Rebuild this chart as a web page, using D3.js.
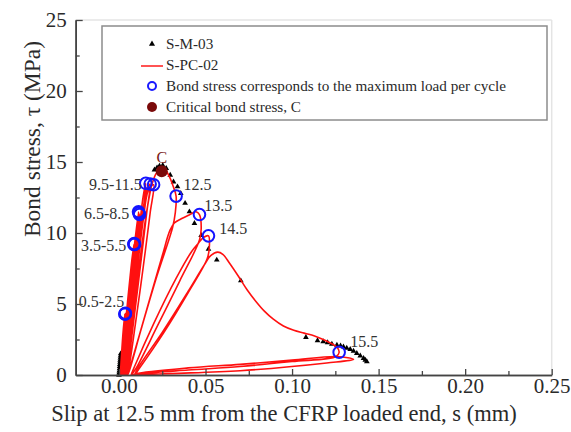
<!DOCTYPE html>
<html>
<head>
<meta charset="utf-8">
<script src="https://cdn.jsdelivr.net/npm/d3@7"></script>
<style>
  html, body { margin: 0; padding: 0; background: #fff; }
  svg { display: block; }
  text { font-family: "Liberation Serif", serif; }
</style>
</head>
<body>
<svg id="chart" width="571" height="432"></svg>
<script>
// ---------- DATA ----------
const xTicks = [0, 0.05, 0.10, 0.15, 0.20, 0.25];
const xMinorTicks = [0.025, 0.075, 0.125, 0.175, 0.225];
const yTicks = [0, 5, 10, 15, 20, 25];
const yMinorTicks = [2.5, 7.5, 12.5, 17.5, 22.5];

// S-M-03 (monotonic test) – triangles (visible points)
const monoSlip = [0, 0.0001, 0.0002, 0.0003, 0.0004, 0.0005, 0.0006, 0.0007, 0.0008, 0.0009, 0.001,
  0.0205, 0.022, 0.0234, 0.0253, 0.0273, 0.0296, 0.0315, 0.0338, 0.0357, 0.0382, 0.0407, 0.0436, 0.0475, 0.0517, 0.0565, 0.0704,
  0.108, 0.1147, 0.118, 0.1205, 0.123, 0.1259, 0.128, 0.1297, 0.1316, 0.1336, 0.1355, 0.1374, 0.1394, 0.1413, 0.1423, 0.1432];
const monoStress = [0, 0.15, 0.3, 0.45, 0.6, 0.75, 0.9, 1.05, 1.2, 1.35, 1.5,
  14.45, 14.6, 14.72, 14.77, 14.55, 14.08, 13.6, 13.26, 12.8, 12.1, 11.5, 10.68, 9.84, 8.87, 8.1, 6.64,
  2.65, 2.42, 2.35, 2.28, 2.18, 2.11, 2.05, 1.99, 1.9, 1.81, 1.68, 1.53, 1.35, 1.17, 1.05, 0.94];

// S-PC-02 (cyclic test) – red line
const cyclicSlip = [0.0008,
  0.0015, 0.0025, 0.0034, 0.0030, 0.0020, 0.0012,
  0.0018, 0.0027, 0.0036, 0.0031, 0.0022, 0.0014,
  0.0020, 0.0029, 0.0037, 0.0033, 0.0024, 0.0016,
  0.0030, 0.0050, 0.0070, 0.0086, 0.0078, 0.0055, 0.0032, 0.0020,
  0.0033, 0.0053, 0.0072, 0.0088, 0.0080, 0.0057, 0.0034, 0.0022,
  0.0035, 0.0055, 0.0074, 0.0090, 0.0082, 0.0059, 0.0036, 0.0024,
  0.0040, 0.0065, 0.0090, 0.0113, 0.0100, 0.0072, 0.0042, 0.0027,
  0.0043, 0.0068, 0.0093, 0.0116, 0.0103, 0.0075, 0.0045, 0.0030,
  0.0046, 0.0071, 0.0096, 0.0119, 0.0106, 0.0078, 0.0048, 0.0033,
  0.0050, 0.0085, 0.0120, 0.0140, 0.0155, 0.0140, 0.0110, 0.0075, 0.0045, 0.0036,
  0.0055, 0.0092, 0.0130, 0.0158, 0.0180, 0.0160, 0.0125, 0.0085, 0.0050, 0.0040,
  0.0060, 0.0100, 0.0140, 0.0170, 0.0200, 0.0180, 0.0140, 0.0095, 0.0055, 0.0044,
  0.0065, 0.0110, 0.0160, 0.0190, 0.0215, 0.0240, 0.0265, 0.0290, 0.0310, 0.0330, 0.0325, 0.0310, 0.0220, 0.0130, 0.0060, 0.0050,
  0.0070, 0.0160, 0.0250, 0.0295, 0.0320, 0.0360, 0.0410, 0.0445, 0.0465, 0.0475, 0.0465, 0.0350, 0.0220, 0.0100, 0.0070,
  0.0090, 0.0200, 0.0330, 0.0420, 0.0460, 0.0490, 0.0517, 0.0522, 0.0510, 0.0400, 0.0260, 0.0120, 0.0090,
  0.0110, 0.0250, 0.0400, 0.0490, 0.0530, 0.0570, 0.0600, 0.0640, 0.0690, 0.0740, 0.0790, 0.0840, 0.0890, 0.0950, 0.1010, 0.1070, 0.1130, 0.1180, 0.1230, 0.1260, 0.1272, 0.1255, 0.1000, 0.0700, 0.0400, 0.0150, 0.0080,
  0.0100, 0.0400, 0.0700, 0.1000, 0.1260, 0.1355, 0.1200, 0.0700, 0.0300, 0.0100];
const cyclicStress = [0,
  1.5, 3.2, 4.3, 3.0, 1.2, 0,
  1.4, 3.1, 4.3, 2.8, 1.1, 0,
  1.3, 3.0, 4.35, 2.9, 1.1, 0,
  2.5, 5.2, 7.6, 9.2, 7.4, 4.5, 1.6, 0,
  2.4, 5.1, 7.5, 9.25, 7.3, 4.4, 1.5, 0,
  2.3, 5.0, 7.4, 9.2, 7.2, 4.3, 1.4, 0,
  2.8, 6.2, 9.2, 11.5, 9.0, 5.5, 1.8, 0,
  2.7, 6.1, 9.1, 11.4, 8.9, 5.4, 1.7, 0,
  2.6, 6.0, 9.0, 11.3, 8.8, 5.3, 1.6, 0,
  2.6, 6.8, 10.6, 12.6, 13.5, 11.5, 8.0, 4.0, 0.6, 0,
  2.5, 6.8, 10.8, 12.9, 13.45, 11.4, 7.8, 3.8, 0.5, 0,
  2.4, 6.8, 10.9, 13.0, 13.4, 11.4, 7.6, 3.6, 0.4, 0,
  2.4, 7.0, 11.5, 13.4, 14.2, 14.55, 14.5, 14.0, 13.4, 12.6, 11.4, 10.4, 7.0, 3.3, 0.3, 0,
  0.8, 4.6, 8.4, 10.2, 10.7, 11.0, 11.3, 11.5, 11.3, 10.3, 9.5, 6.6, 3.4, 0.5, 0,
  0.6, 3.6, 6.8, 8.7, 9.3, 9.7, 9.8, 9.0, 8.2, 5.8, 3.0, 0.5, 0,
  0.5, 3.0, 5.9, 7.7, 8.4, 8.65, 8.5, 7.85, 6.95, 6.0, 5.2, 4.5, 3.95, 3.45, 3.15, 2.95, 2.75, 2.5, 2.2, 1.95, 1.6, 1.3, 0.95, 0.6, 0.35, 0.12, 0,
  0.1, 0.5, 0.75, 1.05, 1.3, 1.1, 0.85, 0.3, 0.1, 0];

// Bond stress at maximum load per cycle – blue circles
const peakSlip = [0.0034, 0.0036, 0.0037, 0.0086, 0.0088, 0.0090, 0.0113, 0.0116, 0.0119, 0.0155, 0.0180, 0.0200, 0.0330, 0.0465, 0.0517, 0.1272];
const peakStress = [4.3, 4.3, 4.35, 9.2, 9.25, 9.2, 11.5, 11.4, 11.3, 13.5, 13.45, 13.4, 12.6, 11.3, 9.8, 1.6];

// Critical bond stress C
const criticalSlip = [0.0247];
const criticalStress = [14.35];

// Cycle labels (anchored in data units)
const cycleLabels = ["0.5-2.5", "3.5-5.5", "6.5-8.5", "9.5-11.5", "12.5", "13.5", "14.5", "15.5"];
const cycleLabelSlip = [0.0030, 0.0042, 0.0060, 0.0132, 0.0373, 0.0492, 0.0579, 0.1336];
const cycleLabelStress = [5.2, 9.1, 11.4, 13.45, 13.45, 11.95, 10.35, 2.4];

const legendLabels = ["S-M-03", "S-PC-02", "Bond stress corresponds to the maximum load per cycle", "Critical bond stress, C"];

// ---------- CHART ----------
const svg = d3.select("#chart");
const x = d3.scaleLinear().domain([-0.025, 0.25]).range([75.7, 551.7]);
const y = d3.scaleLinear().domain([0, 25]).range([375, 20]);
const axisColor = "#444";
const textColor = "#2a2a2a";

// light frame top/right
svg.append("line").attr("x1", x(-0.025)).attr("x2", x(0.25)).attr("y1", y(25)).attr("y2", y(25))
  .attr("stroke", "#e4e4e4").attr("stroke-width", 1.5);
svg.append("line").attr("x1", x(0.25)).attr("x2", x(0.25)).attr("y1", y(25)).attr("y2", y(0))
  .attr("stroke", "#e4e4e4").attr("stroke-width", 1.5);

// legend box
const lg = svg.append("g");
lg.append("rect").attr("x", 102).attr("y", 26).attr("width", 445).attr("height", 94)
  .attr("fill", "#fff").attr("stroke", "#8c8c8c").attr("stroke-width", 1.5);
const rowY = [44, 65, 86, 107];
lg.append("path").attr("d", d3.symbol().type(d3.symbolTriangle).size(16)())
  .attr("transform", `translate(152,${rowY[0]})`).attr("fill", "#000");
lg.append("line").attr("x1", 141).attr("x2", 163).attr("y1", rowY[1] + 1).attr("y2", rowY[1] + 1)
  .attr("stroke", "#ff1a1a").attr("stroke-width", 1.5);
lg.append("circle").attr("cx", 152).attr("cy", rowY[2]).attr("r", 4)
  .attr("fill", "none").attr("stroke", "#1a1aff").attr("stroke-width", 2);
lg.append("circle").attr("cx", 152).attr("cy", rowY[3]).attr("r", 5).attr("fill", "#7a0a0a");
lg.selectAll("text.leg").data(legendLabels).join("text").attr("class", "leg")
  .attr("x", 166).attr("y", (d, i) => rowY[i]).attr("dy", "0.35em")
  .attr("font-size", 15.2).attr("fill", textColor).text(d => d);

// S-M-03 triangles (under the red curve)
const tri = d3.symbol().type(d3.symbolTriangle).size(14)();
svg.append("g").selectAll("path").data(monoSlip.map((s, i) => [s, monoStress[i]])).join("path")
  .attr("d", tri).attr("transform", d => `translate(${x(d[0])},${y(d[1])})`).attr("fill", "#000");

// S-PC-02 cyclic curve
const cyc = cyclicSlip.map((s, i) => [s, cyclicStress[i]]);
const line = d3.line().x(d => x(d[0])).y(d => y(d[1])).curve(d3.curveCatmullRom.alpha(0.5));
svg.append("path").datum(cyc).attr("d", line).attr("fill", "none")
  .attr("stroke", "#ff1010").attr("stroke-width", 1.6).attr("stroke-linejoin", "round");

// critical point
svg.append("g").selectAll("circle").data(criticalSlip.map((s, i) => [s, criticalStress[i]])).join("circle")
  .attr("cx", d => x(d[0])).attr("cy", d => y(d[1])).attr("r", 6).attr("fill", "#7a0a0a");

// blue circles
svg.append("g").selectAll("circle").data(peakSlip.map((s, i) => [s, peakStress[i]])).join("circle")
  .attr("cx", d => x(d[0])).attr("cy", d => y(d[1])).attr("r", 5.8)
  .attr("fill", "none").attr("stroke", "#1414ff").attr("stroke-width", 2);

// cycle labels
svg.append("g").selectAll("text").data(cycleLabels).join("text")
  .attr("x", (d, i) => x(cycleLabelSlip[i])).attr("y", (d, i) => y(cycleLabelStress[i]))
  .attr("dy", "0.35em").attr("text-anchor", (d, i) => i < 4 ? "end" : "start")
  .attr("font-size", 16).attr("fill", "#333").text(d => d);
svg.append("text").attr("x", x(criticalSlip[0])).attr("y", y(criticalStress[0] + 1.0))
  .attr("dy", "0.35em").attr("text-anchor", "middle").attr("font-size", 16).attr("fill", "#7a1a1a").text("C");

// axes
const xAxis = svg.append("g").attr("transform", `translate(0,${y(0)})`)
  .call(d3.axisBottom(x).tickValues(xTicks).tickFormat(d3.format(".2f")).tickSize(-6).tickSizeOuter(0).tickPadding(3));
const xMinor = svg.append("g").attr("transform", `translate(0,${y(0)})`)
  .call(d3.axisBottom(x).tickValues(xMinorTicks).tickFormat("").tickSize(-4).tickSizeOuter(0));
const yAxis = svg.append("g").attr("transform", `translate(${x(-0.025)},0)`)
  .call(d3.axisLeft(y).tickValues(yTicks).tickSize(-7).tickSizeOuter(0).tickPadding(9));
const yMinor = svg.append("g").attr("transform", `translate(${x(-0.025)},0)`)
  .call(d3.axisLeft(y).tickValues(yMinorTicks).tickFormat("").tickSize(-4).tickSizeOuter(0));
[xAxis, xMinor, yAxis, yMinor].forEach(g => {
  g.selectAll("path.domain").attr("stroke", axisColor).attr("stroke-width", 1.6);
  g.selectAll(".tick line").attr("stroke", axisColor).attr("stroke-width", 1.3);
  g.selectAll(".tick text").attr("font-family", "Liberation Serif, serif").attr("font-size", 21).attr("fill", textColor);
});

// axis titles
svg.append("text").attr("x", 284).attr("y", 421)
  .attr("text-anchor", "middle").attr("font-size", 22.5).attr("fill", textColor)
  .text("Slip at 12.5 mm from the CFRP loaded end, s (mm)");
svg.append("text").attr("transform", `translate(40,${139}) rotate(-90)`)
  .attr("text-anchor", "middle").attr("font-size", 23.5).attr("fill", textColor)
  .text("Bond stress, τ (MPa)");
</script>
</body>
</html>
